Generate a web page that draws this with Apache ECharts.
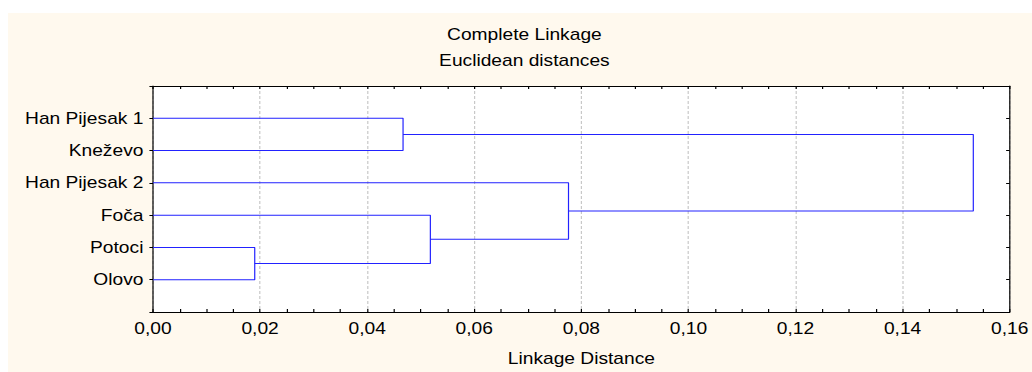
<!DOCTYPE html>
<html><head><meta charset="utf-8">
<script src="https://cdn.jsdelivr.net/npm/echarts@6/dist/echarts.min.js"></script>
<style>
html,body{margin:0;padding:0;background:#fff;overflow:hidden;width:1032px;height:372px;position:relative}
#bg{position:absolute;left:8px;top:13px;right:0;bottom:0;background:#FFF9EE}
#c{position:absolute;left:0;top:0;width:860px;height:372px;transform:scaleX(1.2);transform-origin:0 0}
</style></head><body><div id="bg"></div><div id="c"></div>
<script>
// leaves, top to bottom
const leaves = ['Han Pijesak 1', 'Kneževo', 'Han Pijesak 2', 'Foča', 'Potoci', 'Olovo'];
// linkage table: merged node ids (leaves 0..5, new clusters 6..10) and heights
const mergeLeft = [4, 0, 3, 2, 7];
const mergeRight = [5, 1, 6, 8, 9];
const mergeHeight = [0.0190, 0.0467, 0.0518, 0.0776, 0.1532];
const xTickLabels = ['0,00', '0,02', '0,04', '0,06', '0,08', '0,10', '0,12', '0,14', '0,16'];

const nodeX = leaves.map(() => 0);
const nodeY = leaves.map((_, i) => i + 1);
const series = [];
for (let k = 0; k < mergeHeight.length; k++) {
  const a = mergeLeft[k], b = mergeRight[k], h = mergeHeight[k];
  series.push({
    type: 'line', xAxisIndex: 0, yAxisIndex: 0, showSymbol: false, silent: true,
    animation: false, z: 5,
    lineStyle: { color: '#2222ff', width: 1 },
    data: [[nodeX[a], nodeY[a]], [h, nodeY[a]], [h, nodeY[b]], [nodeX[b], nodeY[b]]]
  });
  nodeX.push(h);
  nodeY.push((nodeY[a] + nodeY[b]) / 2);
}

const font = 'Liberation Sans';
const txt = { fontFamily: font, fontSize: 16, color: '#000' };
const axisLine = { show: true, onZero: false, lineStyle: { color: '#000', width: 1 } };

const chart = echarts.init(document.getElementById('c'), null, { renderer: 'svg' });
chart.setOption({
  animation: false,
  backgroundColor: 'transparent',
  title: {
    text: 'Complete Linkage\nEuclidean distances',
    left: 432, top: 17, textAlign: 'center',
    textStyle: Object.assign({ fontWeight: 'normal', lineHeight: 26 }, txt)
  },
  grid: { left: 127.5, right: 15.8, top: 86, bottom: 58, show: true, backgroundColor: '#fff', borderWidth: 0 },
  xAxis: [{
    type: 'value', position: 'bottom', min: 0, max: 0.16, interval: 0.02,
    axisLine: axisLine,
    axisTick: { show: true, inside: true, length: 3, lineStyle: { color: '#000' } },
    minorTick: { show: true, splitNumber: 4, length: 3, lineStyle: { color: '#000' } },
    splitLine: { show: true, lineStyle: { color: '#c8c8c8', type: [3, 2], width: 1 } },
    axisLabel: Object.assign({ margin: 9, formatter: v => xTickLabels[Math.round(v / 0.02)] }, txt),
    name: 'Linkage Distance', nameLocation: 'middle', nameGap: 39,
    nameTextStyle: txt
  }, {
    type: 'value', position: 'top', min: 0, max: 0.16, interval: 0.02,
    axisLine: axisLine,
    axisTick: { show: true, inside: true, length: 3, lineStyle: { color: '#000' } },
    minorTick: { show: true, splitNumber: 4, length: 3, lineStyle: { color: '#000' } },
    splitLine: { show: false }, axisLabel: { show: false }
  }],
  yAxis: [{
    type: 'value', position: 'left', inverse: true, min: 0, max: leaves.length + 1, interval: 1,
    axisLine: axisLine,
    axisTick: { show: true, inside: false, length: 3, lineStyle: { color: '#000' } },
    splitLine: { show: false },
    axisLabel: Object.assign({ margin: 8, formatter: v => leaves[v - 1] || '' }, txt)
  }, {
    type: 'value', position: 'right', inverse: true, min: 0, max: leaves.length + 1, interval: 1,
    axisLine: axisLine,
    axisTick: { show: true, inside: true, length: 3, lineStyle: { color: '#000' } },
    splitLine: { show: false }, axisLabel: { show: false }
  }],
  series: series
});
</script></body></html>
